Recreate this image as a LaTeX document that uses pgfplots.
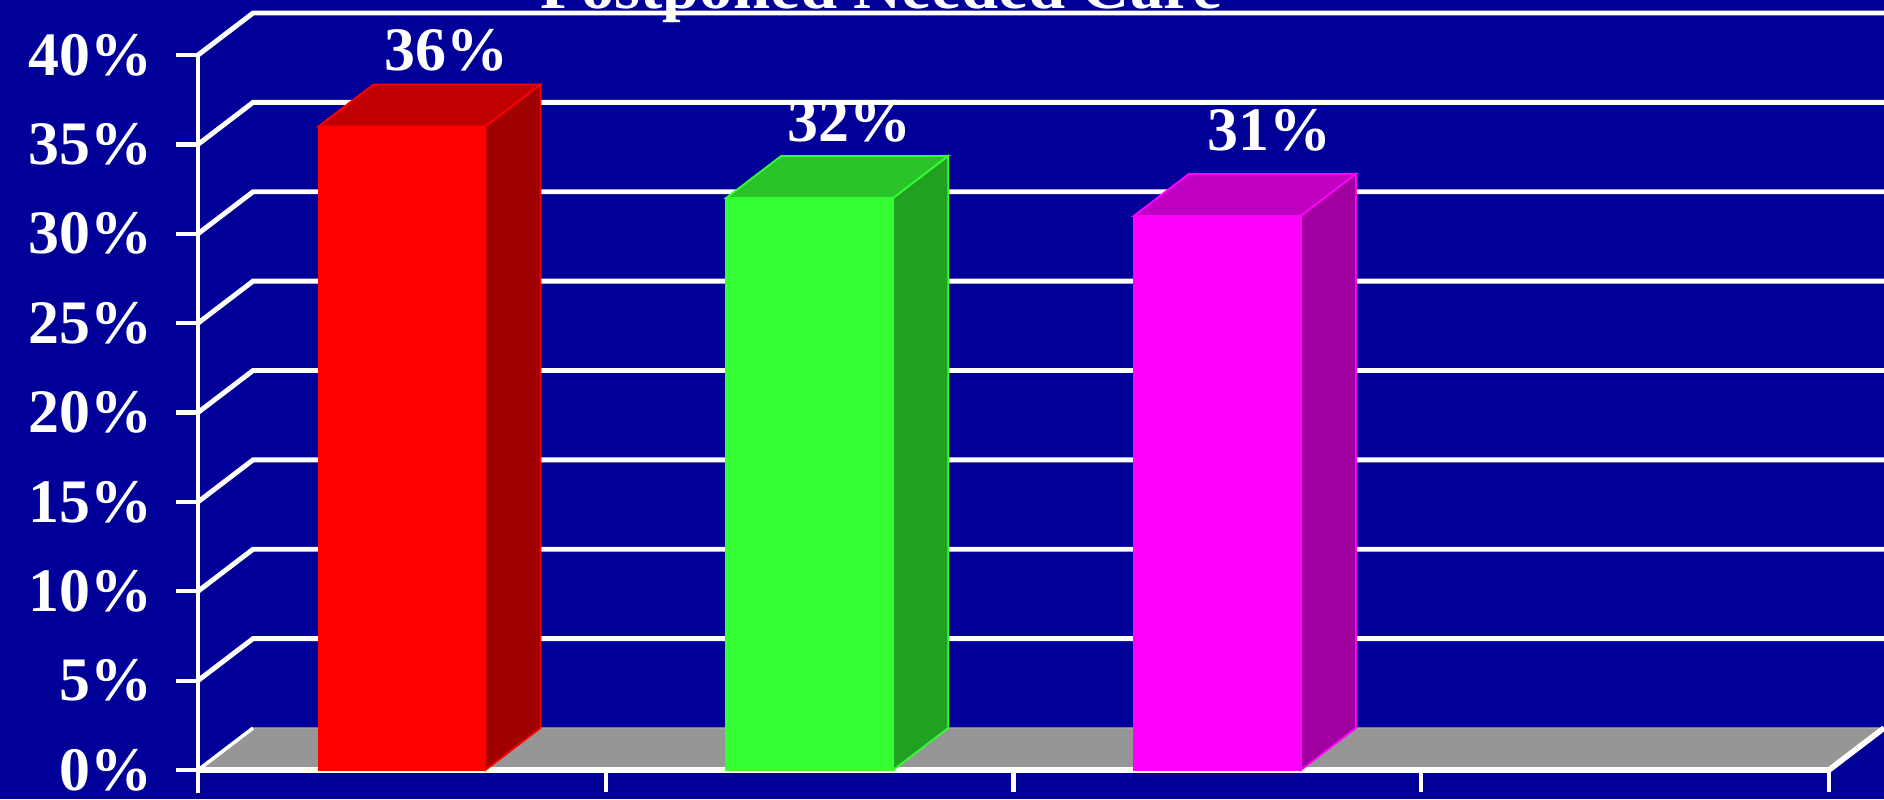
\documentclass[border=0pt]{standalone}
\usepackage{fontspec}
\setmainfont{Liberation Serif}
\usepackage{pgfplots}
\pgfplotsset{compat=1.18}
\definecolor{bg}{RGB}{0,0,153}
\definecolor{floorc}{RGB}{150,150,150}
\definecolor{redF}{RGB}{255,0,0}
\definecolor{redT}{RGB}{192,0,0}
\definecolor{redS}{RGB}{160,0,0}
\definecolor{grnF}{RGB}{51,255,51}
\definecolor{grnT}{RGB}{42,196,42}
\definecolor{grnS}{RGB}{34,160,34}
\definecolor{magF}{RGB}{255,0,255}
\definecolor{magT}{RGB}{192,0,192}
\definecolor{magS}{RGB}{160,0,160}
\begin{document}
\begin{tikzpicture}
\path[use as bounding box, fill=bg] (-19.8mm,-2.9mm) rectangle (168.6mm,77.0mm);
\begin{axis}[
  at={(0,0)}, anchor=south west,
  scale only axis, width=168.6mm, height=77.0mm,
  xmin=0, xmax=4.135, ymin=0, ymax=43.08,
  clip=false,
  axis line style={draw=none},
  xtick={0,1,2,3,4}, xticklabels={},
  ytick={0,5,...,40},
  yticklabels={0\%,5\%,10\%,15\%,20\%,25\%,30\%,35\%,40\%},
  tick align=outside, xtick pos=bottom, ytick pos=left,
  major tick length=2.2mm,
  tick style={white, line width=1.2pt},
  yticklabel style={font=\fontsize{17.6}{17.6}\selectfont\bfseries, text=white, anchor=east, inner sep=0pt, xshift=-2.3mm},
  grid line/.style={white, line width=1.4pt, mark=none},
]
% back wall gridlines
\addplot[grid line] coordinates {(0,5) (0.135,7.35) (4.135,7.35)};
\addplot[grid line] coordinates {(0,10) (0.135,12.35) (4.135,12.35)};
\addplot[grid line] coordinates {(0,15) (0.135,17.35) (4.135,17.35)};
\addplot[grid line] coordinates {(0,20) (0.135,22.35) (4.135,22.35)};
\addplot[grid line] coordinates {(0,25) (0.135,27.35) (4.135,27.35)};
\addplot[grid line] coordinates {(0,30) (0.135,32.35) (4.135,32.35)};
\addplot[grid line] coordinates {(0,35) (0.135,37.35) (4.135,37.35)};
\addplot[grid line] coordinates {(0,40) (0.135,42.35) (4.135,42.35)};
% floor
\addplot[fill=floorc, draw=floorc!80!white, line width=0.4pt, mark=none] coordinates {(0,0) (4,0) (4.135,2.35) (0.135,2.35)} -- cycle;
\addplot[white, line width=1.0pt, mark=none] coordinates {(0,0) (0.135,2.35)};
\addplot[white, line width=1.6pt, mark=none] coordinates {(0,0) (4,0) (4.135,2.35)};
% y axis line
\addplot[white, line width=1.2pt, mark=none] coordinates {(0,-1.3) (0,40)};
% red bar
\addplot[ybar, bar width=0.41, bar shift=0pt, fill=redF, draw=redF, line width=0.4pt] coordinates {(0.5,36)};
\addplot[fill=redT, draw=redF, line width=0.5pt, mark=none] coordinates {(0.295,36) (0.705,36) (0.84,38.35) (0.43,38.35)} -- cycle;
\addplot[fill=redS, draw=redF, line width=0.5pt, mark=none] coordinates {(0.705,0) (0.84,2.35) (0.84,38.35) (0.705,36)} -- cycle;
% green bar
\addplot[ybar, bar width=0.41, bar shift=0pt, fill=grnF, draw=grnF, line width=0.4pt] coordinates {(1.5,32)};
\addplot[fill=grnT, draw=grnF, line width=0.5pt, mark=none] coordinates {(1.295,32) (1.705,32) (1.84,34.35) (1.43,34.35)} -- cycle;
\addplot[fill=grnS, draw=grnF, line width=0.5pt, mark=none] coordinates {(1.705,0) (1.84,2.35) (1.84,34.35) (1.705,32)} -- cycle;
% magenta bar
\addplot[ybar, bar width=0.41, bar shift=0pt, fill=magF, draw=magF, line width=0.4pt] coordinates {(2.5,31)};
\addplot[fill=magT, draw=magF, line width=0.5pt, mark=none] coordinates {(2.295,31) (2.705,31) (2.84,33.35) (2.43,33.35)} -- cycle;
\addplot[fill=magS, draw=magF, line width=0.5pt, mark=none] coordinates {(2.705,0) (2.84,2.35) (2.84,33.35) (2.705,31)} -- cycle;
% value labels
\addplot[draw=none, mark=none, point meta=explicit symbolic, nodes near coords,
  nodes near coords style={font=\fontsize{17.6}{17.6}\selectfont\bfseries, text=white, anchor=south, inner sep=0pt}]
  coordinates {(0.61,39.05)[36\%] (1.597,35.08)[32\%] (2.627,34.57)[31\%]};
\end{axis}
\node[font=\fontsize{19}{19}\selectfont\bfseries, text=white, anchor=base] at (68.3mm,76.1mm) {Postponed Needed Care};
\end{tikzpicture}
\end{document}
